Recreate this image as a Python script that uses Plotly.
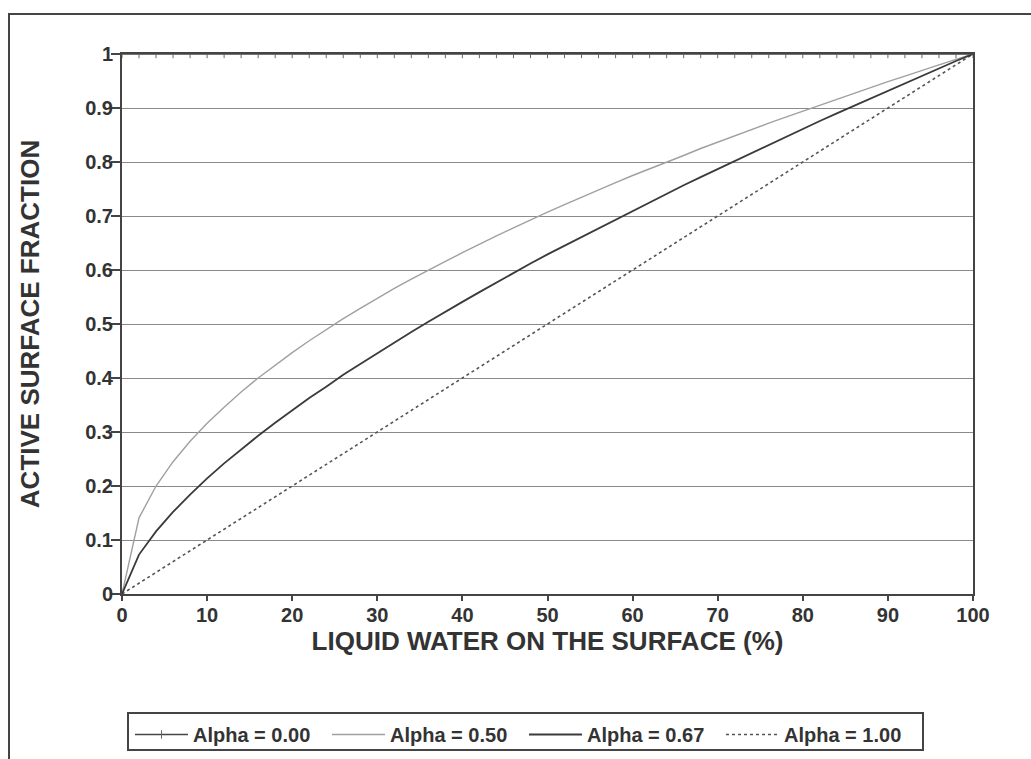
import plotly.graph_objects as go

# Liquid water on the surface (%)
x_pct = [0, 2, 4, 6, 8, 10, 12, 14, 16, 18, 20, 22, 24, 26, 28, 30, 32, 34, 36, 38, 40,
         42, 44, 46, 48, 50, 52, 54, 56, 58, 60, 62, 64, 66, 68, 70, 72, 74, 76, 78, 80,
         82, 84, 86, 88, 90, 92, 94, 96, 98, 100]

alpha_000 = [1.0] * 51

alpha_050 = [0.0, 0.141, 0.2, 0.245, 0.283, 0.316, 0.346, 0.374, 0.4, 0.424, 0.447,
             0.469, 0.49, 0.51, 0.529, 0.548, 0.566, 0.583, 0.6, 0.616, 0.632,
             0.648, 0.663, 0.678, 0.693, 0.707, 0.721, 0.735, 0.748, 0.762, 0.775,
             0.787, 0.8, 0.812, 0.825, 0.837, 0.849, 0.86, 0.872, 0.883, 0.894,
             0.906, 0.917, 0.927, 0.938, 0.949, 0.959, 0.97, 0.98, 0.99, 1.0]

alpha_067 = [0.0, 0.073, 0.116, 0.152, 0.184, 0.214, 0.242, 0.268, 0.293, 0.317, 0.34,
             0.363, 0.384, 0.406, 0.426, 0.446, 0.466, 0.485, 0.504, 0.523, 0.541,
             0.559, 0.577, 0.594, 0.612, 0.629, 0.645, 0.662, 0.678, 0.694, 0.71,
             0.726, 0.742, 0.757, 0.772, 0.787, 0.802, 0.817, 0.832, 0.847, 0.861,
             0.876, 0.89, 0.904, 0.918, 0.932, 0.946, 0.959, 0.973, 0.987, 1.0]

alpha_100 = [0.0, 0.02, 0.04, 0.06, 0.08, 0.1, 0.12, 0.14, 0.16, 0.18, 0.2,
             0.22, 0.24, 0.26, 0.28, 0.3, 0.32, 0.34, 0.36, 0.38, 0.4,
             0.42, 0.44, 0.46, 0.48, 0.5, 0.52, 0.54, 0.56, 0.58, 0.6,
             0.62, 0.64, 0.66, 0.68, 0.7, 0.72, 0.74, 0.76, 0.78, 0.8,
             0.82, 0.84, 0.86, 0.88, 0.9, 0.92, 0.94, 0.96, 0.98, 1.0]

series_names = ["Alpha = 0.00", "Alpha = 0.50", "Alpha = 0.67", "Alpha = 1.00"]
x_ticks = [0, 10, 20, 30, 40, 50, 60, 70, 80, 90, 100]
y_ticks = [0, 0.1, 0.2, 0.3, 0.4, 0.5, 0.6, 0.7, 0.8, 0.9, 1]
y_tick_text = ["0", "0.1", "0.2", "0.3", "0.4", "0.5", "0.6", "0.7", "0.8", "0.9", "1"]

FONT = "Liberation Sans, Arial, sans-serif"
INK = "#333333"
W, H = 1031, 759
L, R, T, B = 122, 58, 54, 165
pw, ph = W - L - R, H - T - B

def cx(p):  # container x fraction from pixel
    return p / W

def cy(p):  # container y fraction from pixel (top-down)
    return 1 - p / H

fig = go.Figure()

fig.add_trace(go.Scatter(x=x_pct, y=alpha_100, name=series_names[3], mode="lines",
                         legendrank=4,
                         line=dict(color="#555555", width=1.6, dash="dot")))
fig.add_trace(go.Scatter(x=x_pct, y=alpha_050, name=series_names[1], mode="lines",
                         legendrank=2,
                         line=dict(color="#a0a0a0", width=1.4)))
fig.add_trace(go.Scatter(x=x_pct, y=alpha_067, name=series_names[2], mode="lines",
                         legendrank=3,
                         line=dict(color="#3a3a3a", width=1.8)))
fig.add_trace(go.Scatter(x=x_pct, y=alpha_000, name=series_names[0], mode="lines+markers",
                         legendrank=1,
                         line=dict(color="#444444", width=1.6),
                         marker=dict(symbol="line-ns", size=6,
                                     line=dict(color="#666666", width=1))))

fig.update_layout(
    width=W, height=H,
    margin=dict(l=L, r=R, t=T, b=B, autoexpand=False),
    paper_bgcolor="white", plot_bgcolor="white",
    font=dict(family=FONT, color=INK),
    showlegend=True,
    legend=dict(orientation="h", traceorder="normal",
                xref="container", yref="container",
                x=cx(130), y=cy(715), xanchor="left", yanchor="top",
                borderwidth=0, bgcolor="rgba(0,0,0,0)",
                font=dict(family=FONT, size=20, color=INK, weight="bold"),
                itemwidth=53, entrywidth=129, entrywidthmode="pixels"),
    xaxis=dict(range=[0, 100], tickvals=x_ticks, showgrid=False, zeroline=False,
               automargin=False,
               showline=True, linecolor="#444444", linewidth=2, mirror=True,
               ticks="outside", ticklen=5, tickcolor="#444444", tickwidth=1.5,
               ticklabelstandoff=-3,
               tickfont=dict(family=FONT, size=20, weight="bold", color=INK),
               title=dict(text="LIQUID WATER ON THE SURFACE (%)", standoff=0,
                          font=dict(family=FONT, size=26, weight="bold", color=INK))),
    yaxis=dict(range=[0, 1], tickvals=y_ticks, ticktext=y_tick_text, showgrid=True,
               gridcolor="#8a8a8a", gridwidth=1, zeroline=False,
               automargin=False,
               showline=True, linecolor="#444444", linewidth=2, mirror=True,
               ticks="outside", ticklen=9, tickcolor="#444444", tickwidth=1.5,
               ticklabelstandoff=-6,
               tickfont=dict(family=FONT, size=20, weight="bold", color=INK),
               title=dict(text="ACTIVE SURFACE FRACTION", standoff=38,
                          font=dict(family=FONT, size=26, weight="bold", color=INK))),
    shapes=[
        dict(type="rect", xref="paper", yref="paper",
             x0=(9 - L) / pw, x1=(1040 - L) / pw,
             y0=(H - B - 770) / ph, y1=(H - B - 14) / ph,
             line=dict(color="#444444", width=2), layer="below"),
        dict(type="rect", xref="paper", yref="paper",
             x0=(128 - L) / pw, x1=(923 - L) / pw,
             y0=(H - B - 750) / ph, y1=(H - B - 713) / ph,
             line=dict(color="#444444", width=2), layer="below"),
    ],
)

fig.write_html("out.html")
